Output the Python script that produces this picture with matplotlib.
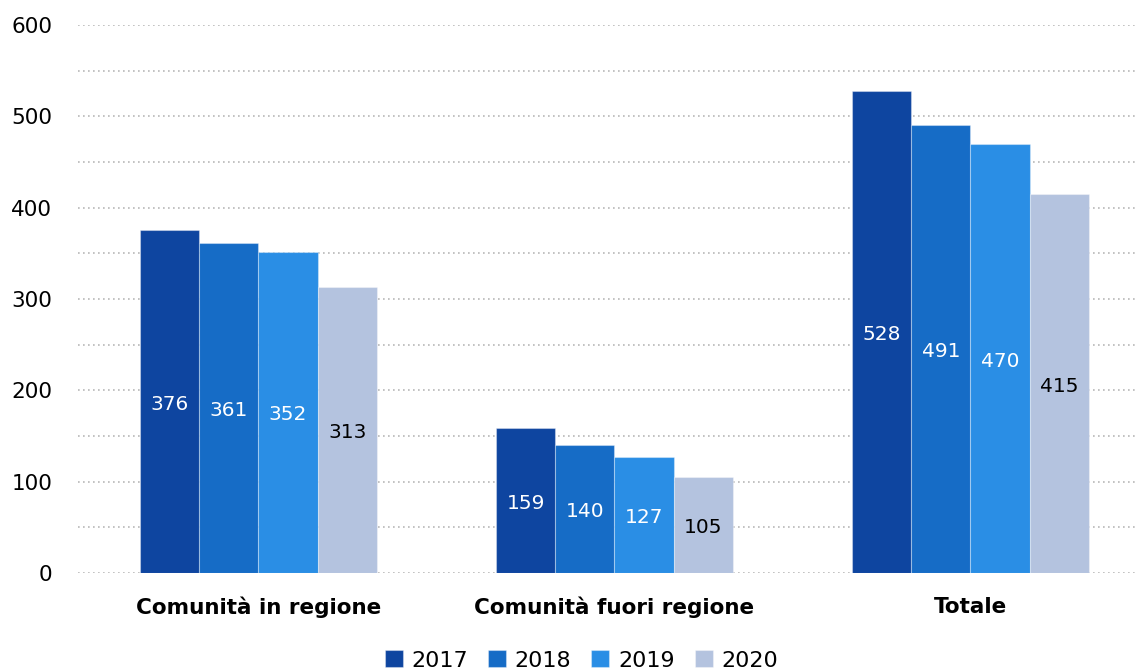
import numpy as np
import matplotlib.pyplot as plt

categories = ['Comunità in regione', 'Comunità fuori regione', 'Totale']
years = ['2017', '2018', '2019', '2020']
v2017 = [376, 159, 528]
v2018 = [361, 140, 491]
v2019 = [352, 127, 470]
v2020 = [313, 105, 415]
series = [v2017, v2018, v2019, v2020]
colors = ['#0E45A0', '#166CC6', '#2A8EE5', '#B4C3DF']
label_colors = ['white', 'white', 'white', 'black']

plt.rcParams['font.family'] = ['DejaVu Sans']

fig = plt.figure(figsize=(11.37, 6.69), dpi=100)
ax = fig.add_axes([78 / 1137, 1 - 573 / 669, 1 - 78 / 1137, 548 / 669])

x = np.arange(len(categories))
w = 0.1665
for i, vals in enumerate(series):
    pos = x + (i - 1.5) * w
    bars = ax.bar(pos, vals, width=w, color=colors[i], edgecolor=(1, 1, 1, 0.35),
                  linewidth=0.8, label=years[i], zorder=2)
    for b, v in zip(bars, vals):
        ax.text(b.get_x() + b.get_width() / 2, v / 2 - 3, str(v), ha='center', va='center',
                color=label_colors[i], fontsize=14.5, zorder=3)

ax.set_xlim(-0.507, 2.468)
ax.set_ylim(0, 600)
ax.set_yticks(np.arange(0, 601, 50))
ax.set_yticklabels([str(t) if t % 100 == 0 else '' for t in range(0, 601, 50)])
ax.yaxis.grid(True, linestyle=(0, (1, 2)), color='#b8b8b8', linewidth=1.2, zorder=0)
ax.set_axisbelow(True)
ax.tick_params(axis='y', length=0, labelsize=15.5, pad=18.5)
ax.tick_params(axis='x', length=0, labelsize=15.5, pad=17)
ax.set_xticks(x)
ax.set_xticklabels(categories, fontweight='bold')
for s in ax.spines.values():
    s.set_visible(False)

ax.legend(loc='upper center', bbox_to_anchor=(0.5 - 26 / 1059, -0.125), ncol=4, frameon=False,
          fontsize=16, handlelength=0.8, handleheight=0.8, handletextpad=0.4,
          columnspacing=0.9, borderaxespad=0)

fig.savefig('out.png', dpi=100)
